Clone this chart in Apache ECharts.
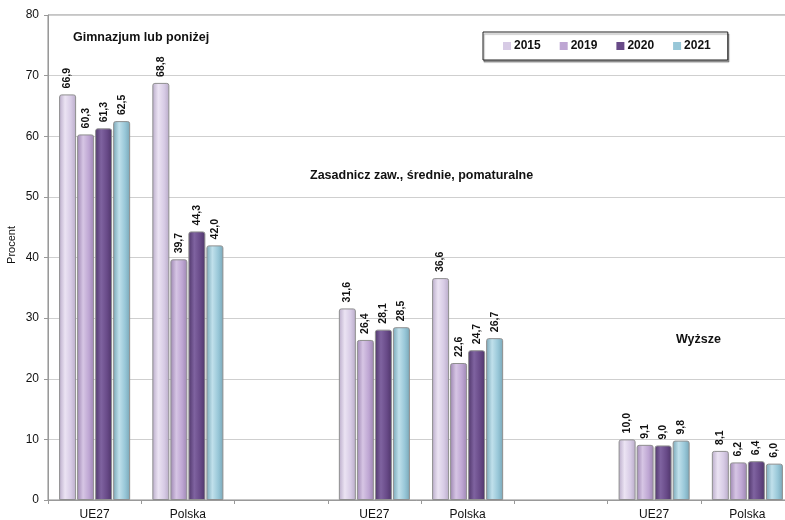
<!DOCTYPE html>
<html>
<head>
<meta charset="utf-8">
<script src="https://cdn.jsdelivr.net/npm/echarts@6/dist/echarts.min.js"></script>
<style>
  html, body { margin: 0; padding: 0; background: #fff; }
  #chart { width: 785px; height: 520px; }
</style>
</head>
<body>
<div id="chart"></div>
<script>
// Categories: three education levels, each with UE27 and Polska, separated by an empty slot
const categories = ['UE27', 'Polska', '', 'UE27', 'Polska', '', 'UE27', 'Polska'];
const years = ['2015', '2019', '2020', '2021'];

// Shares (%) per year, in category order ('-' = empty slot)
const v2015 = [66.9, 68.8, '-', 31.6, 36.6, '-', 10.0, 8.1];
const v2019 = [60.3, 39.7, '-', 26.4, 22.6, '-', 9.1, 6.2];
const v2020 = [61.3, 44.3, '-', 28.1, 24.7, '-', 9.0, 6.4];
const v2021 = [62.5, 42.0, '-', 28.5, 26.7, '-', 9.8, 6.0];

const groupTitles = ['Gimnazjum lub poniżej', 'Zasadnicz zaw., średnie, pomaturalne', 'Wyższe'];
const yAxisTitle = 'Procent';
const yTicks = { min: 0, max: 80, interval: 10 };

const seriesValues = [v2015, v2019, v2020, v2021];
const palette = [
  { base: '#d7cbe5', light: '#ebe3f3', dark: '#b9abc9' },
  { base: '#bea6d3', light: '#d6c5e4', dark: '#9d86b2' },
  { base: '#684a88', light: '#7f63a0', dark: '#4e3569' },
  { base: '#98c7d8', light: '#c0e0eb', dark: '#78a6b7' }
];

function shade(p) {
  return {
    type: 'linear', x: 0, y: 0, x2: 1, y2: 0,
    colorStops: [
      { offset: 0, color: p.dark },
      { offset: 0.35, color: p.light },
      { offset: 0.7, color: p.base },
      { offset: 1, color: p.dark }
    ]
  };
}

const fmt = v => Number(v).toFixed(1).replace('.', ',');
const titleFont = 'bold 12.5px Liberation Sans, Arial, sans-serif';

const chart = echarts.init(document.getElementById('chart'));

const series = years.map((y, i) => ({
  name: y,
  type: 'bar',
  data: seriesValues[i],
  barWidth: 17,
  barGap: '6%',
  itemStyle: {
    color: shade(palette[i]),
    borderColor: '#8f8f8f',
    borderWidth: 1,
    borderRadius: [2, 2, 0, 0]
  },
  label: {
    show: true,
    position: 'top',
    rotate: 90,
    align: 'left',
    verticalAlign: 'middle',
    distance: 6,
    fontFamily: 'Liberation Sans, Arial, sans-serif',
    fontWeight: 'bold',
    fontSize: 10.5,
    color: '#111',
    formatter: p => fmt(p.value)
  }
}));

chart.setOption({
  animation: false,
  textStyle: { fontFamily: 'Liberation Sans, Arial, sans-serif' },
  grid: {
    left: 48, width: 746, top: 15, bottom: 20,
    outerBoundsMode: 'none',
    containLabel: false,
    show: true, borderColor: '#8a8a8a', borderWidth: 1
  },
  legend: {
    data: years.map((y, i) => ({ name: y, itemStyle: { color: palette[i].base, borderWidth: 0 } })),
    left: 483, top: 32,
    orient: 'horizontal',
    icon: 'rect',
    itemWidth: 8, itemHeight: 8,
    itemGap: 19,
    padding: [8, 17, 8, 20],
    borderColor: '#222', borderWidth: 1,
    backgroundColor: '#fff',
    shadowColor: 'rgba(0,0,0,0.35)', shadowOffsetX: 1, shadowOffsetY: 2, shadowBlur: 1,
    textStyle: { fontWeight: 'bold', fontSize: 12, color: '#111', padding: [0, 0, 0, -2] }
  },
  xAxis: {
    type: 'category',
    data: categories,
    axisLine: { lineStyle: { color: '#999' } },
    axisTick: { show: true, length: 4, lineStyle: { color: '#999' } },
    axisLabel: { fontSize: 12, color: '#111', margin: 9, interval: 0 }
  },
  yAxis: {
    type: 'value',
    min: yTicks.min, max: yTicks.max, interval: yTicks.interval,
    axisLine: { show: true, lineStyle: { color: '#999' } },
    axisTick: { show: true, length: 4, lineStyle: { color: '#999' } },
    axisLabel: { fontSize: 12, color: '#111', margin: 9 },
    splitLine: { lineStyle: { color: '#cfcfcf' } }
  },
  graphic: [
    {
      type: 'text', x: 12, y: 245, rotation: Math.PI / 2,
      style: { text: yAxisTitle, font: '11px Liberation Sans, Arial, sans-serif', fill: '#111', align: 'center', verticalAlign: 'middle' }
    },
    { type: 'text', left: 73, top: 31, style: { text: groupTitles[0], font: titleFont, fill: '#111' } },
    { type: 'text', left: 310, top: 169, style: { text: groupTitles[1], font: titleFont, fill: '#111' } },
    { type: 'text', left: 676, top: 333, style: { text: groupTitles[2], font: titleFont, fill: '#111' } }
  ],
  series: series
});
</script>
</body>
</html>
